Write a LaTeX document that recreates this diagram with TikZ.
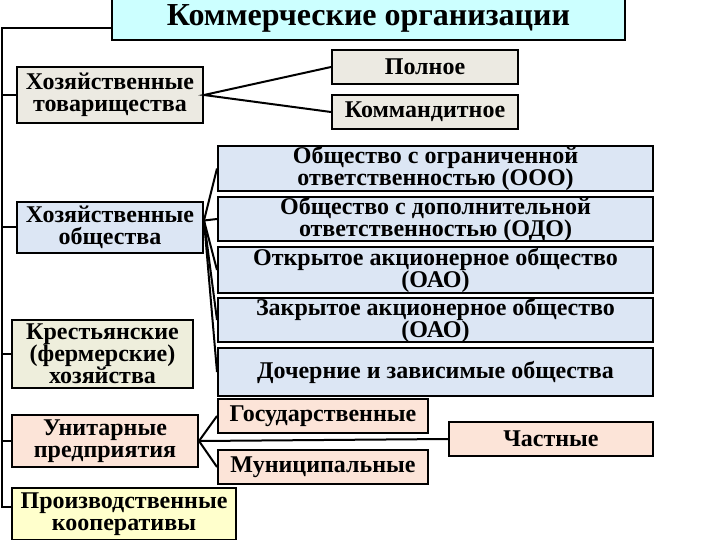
\documentclass[tikz,border=0pt]{standalone}
\usepackage{fontspec}
\setmainfont{Liberation Serif}
\usetikzlibrary{calc,positioning}
\definecolor{cyanx}{HTML}{CCFFFF}
\definecolor{greyx}{HTML}{ECEAE2}
\definecolor{bluex}{HTML}{DCE6F4}
\definecolor{olivex}{HTML}{EEEEDC}
\definecolor{peachx}{HTML}{FCE4D8}
\definecolor{yellowx}{HTML}{FFFFCC}
\tikzset{
  ln/.style={line width=2pt,black},
  box/.style={draw=black,line width=2pt,align=center,inner sep=0pt,
    font=\bfseries\fontsize{24}{22}\selectfont}
}
\begin{document}
\begin{tikzpicture}[x=1pt,y=-1pt]
\useasboundingbox (0,0) rectangle (720,540);
\node[box,fill=cyanx,minimum width=513,minimum height=44,font=\bfseries\fontsize{32}{32}\selectfont] (kom) at (368.5,18) {\raisebox{-3pt}{Коммерческие организации}};
% left column
\node[box,fill=greyx,minimum width=186,minimum height=56] (tov) at (110,95) {Хозяйственные\\товарищества};
\node[box,fill=bluex,minimum width=186,minimum height=51] (obs) at (110,227.5) {Хозяйственные\\общества};
\node[box,fill=olivex,minimum width=181,minimum height=68] (kre) at (102.5,354) {Крестьянские\\(фермерские)\\хозяйства};
\node[box,fill=peachx,minimum width=186,minimum height=52] (uni) at (105,441) {Унитарные\\предприятия};
\node[box,fill=yellowx,minimum width=224,minimum height=52] (pro) at (124,514) {Производственные\\кооперативы};
% partnerships
\node[box,fill=greyx,minimum width=186,minimum height=34] (pol) at (425,67) {Полное};
\node[box,fill=greyx,minimum width=186,minimum height=34] (kmd) at (425,112) {Коммандитное};
% companies
\node[box,fill=bluex,minimum width=435,minimum height=45] (ooo) at (435.5,168.5) {Общество с ограниченной\\ответственностью (ООО)};
\node[box,fill=bluex,minimum width=435,minimum height=44] (odo) at (435.5,219) {Общество с дополнительной\\ответственностью (ОДО)};
\node[box,fill=bluex,minimum width=435,minimum height=46] (oao) at (435.5,270) {Открытое акционерное общество\\(ОАО)};
\node[box,fill=bluex,minimum width=435,minimum height=44] (zao) at (435.5,320) {Закрытое акционерное общество\\(ОАО)};
\node[box,fill=bluex,minimum width=435,minimum height=48] (doc) at (435.5,372) {Дочерние и зависимые общества};
% unitary
\node[box,fill=peachx,minimum width=210,minimum height=34] (gos) at (323,416) {Государственные};
\node[box,fill=peachx,minimum width=210,minimum height=34] (mun) at (323,467) {Муниципальные};
\node[box,fill=peachx,minimum width=204,minimum height=34] (cha) at (551,439) {Частные};
% trunk
\coordinate (t0) at (2,28);
\coordinate (t1) at (2,507);
\draw[ln] (kom.west |- t0) -- (t0) -- (t1) -- (t1 -| pro.west);
\draw[ln] (t0 |- tov.west) -- (tov.west);
\draw[ln] (t0 |- obs.west) -- (obs.west);
\draw[ln] (t0 |- kre.west) -- (kre.west);
\draw[ln] (t0 |- uni.west) -- (uni.west);
% branches
\draw[ln] (pol.west) -- (tov.east) -- (kmd.west);
\coordinate (ob) at ($(obs.east)+(0,-7)$);
\foreach \n in {ooo,odo,oao,zao,doc}
  \draw[ln] (ob) -- (\n.west);
\draw[ln] (gos.west) -- (uni.east) -- (mun.west);
\draw[ln] (uni.east) -- (cha.west);
\end{tikzpicture}
\end{document}
